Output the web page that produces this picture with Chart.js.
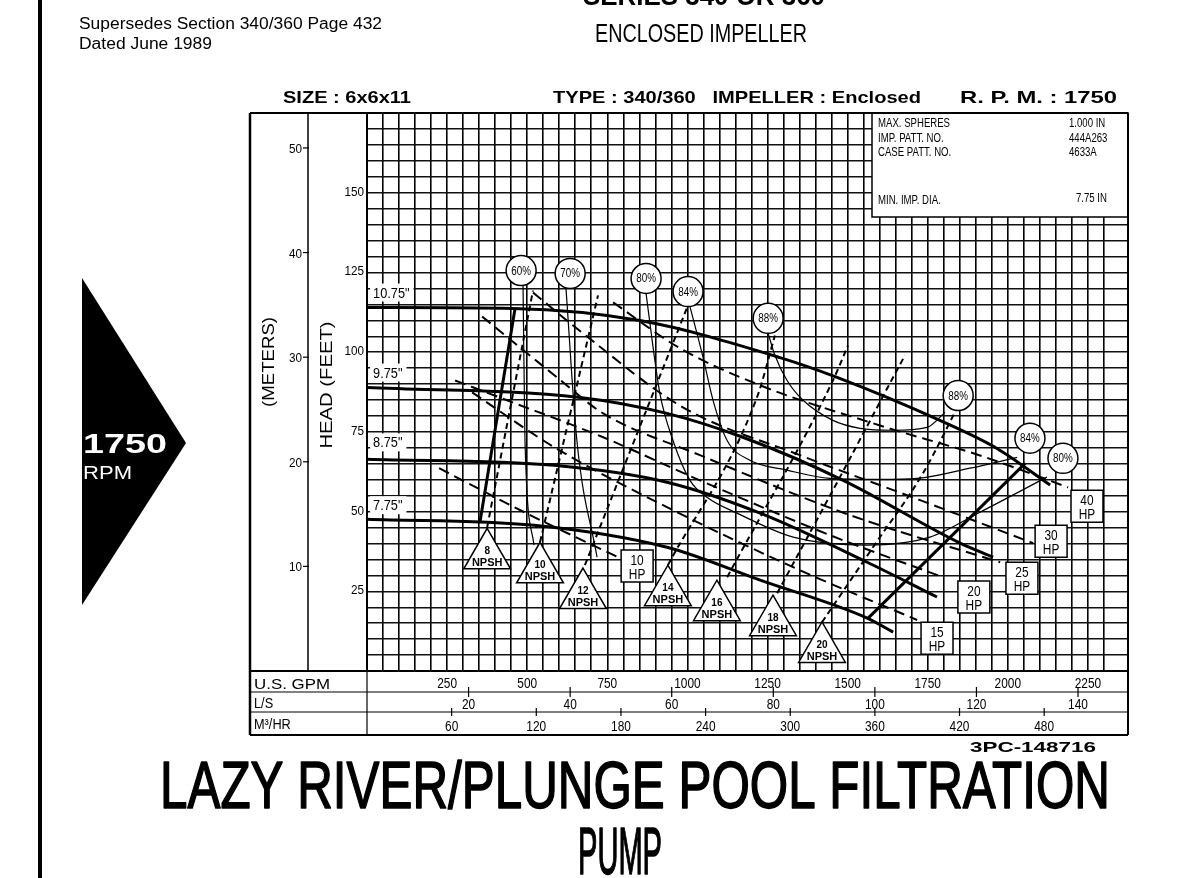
<!DOCTYPE html>
<html lang="en">
    <head>
        <meta charset="utf-8">
        <title> Pump Curve 340/360 6x6x11 </title>
        <script src="https://cdn.jsdelivr.net/npm/chart.js@4.4.1/dist/chart.umd.min.js"></script>
        <style>
            html, body { margin: 0; padding: 0; background: #fff; }
            #sheet { position: relative; width: 1177px; height: 878px; }
        </style>
    </head>

    <body>
        <div id="sheet"><canvas id="pumpChart"></canvas></div>

        <script>

            // head (ft) against flow (U.S. gpm)
            const dia1075 = [[0,114],[456,113.7],[852,109.9],[1289,98.3],[1467,92.1],[1788,78.6],[1966,69.8],[2132,58.3]];
            const dia975  = [[0,88.9],[665,85.8],[936,80.8],[1173,73.3],[1486,59.8],[1851,40.1],[1954,35.7]];
            const dia875  = [[0,66.4],[584,64.5],[936,59.2],[1227,49.5],[1561,34.1],[1779,23.2]];
            const dia775  = [[0,47.6],[521,45.7],[936,38.8],[1227,28.5],[1561,16.6],[1642,12.2]];
            const endOfCurve = [[1564,16.6],[2054,65.1]];
            const minFlow = [[353,47.0],[462,113.7]];

            const diaLabels = ['10.75"', '9.75"', '8.75"', '7.75"'];
            const diaLabelFt = [118.7, 93.6, 71.7, 52.0];

            // efficiency
            const eff60 = [[487,120.9],[493,72.3],[521,39.5]];
            const eff70 = [[621,120.0],[655,72.3],[718,35.7]];
            const eff80 = [[871,118.4],[883,109.0],[914,87.1],[955,72.3],[1008,59.8],[1061,54.5],[1155,49.5],[1330,42.0],[1561,39.5],[1757,42.0],[1913,49.8],[2122,60.8]];
            const eff84 = [[1008,114.3],[1049,98.3],[1080,84.9],[1124,72.3],[1195,66.1],[1311,63.0],[1445,60.4],[1601,60.1],[1717,60.4],[1882,63.6],[2029,67.0]];
            const eff88 = [[1252,105.9],[1273,99.0],[1311,91.1],[1361,84.9],[1454,78.6],[1539,76.1],[1642,75.5],[1748,76.4],[1804,81.1]];
            const effLabels = ['60%', '70%', '80%', '84%', '88%', '88%', '84%', '80%'];
            const effGpm = [481, 634, 871, 1002, 1252, 1845, 2069, 2172];
            const effFt = [125.6, 124.7, 123.1, 119.0, 110.6, 86.4, 73.0, 66.7];

            // horsepower
            const hp10 = [[225,63.6],[509,48.9],[790,35.4]];
            const hp15 = [[328,87.4],[584,70.2],[936,51.4],[1351,31.6],[1717,16.0]];
            const hp20 = [[275,91.1],[437,84.9],[737,73.3],[1039,59.8],[1445,42.6],[1798,29.4]];
            const hp25 = [[359,111.2],[593,92.1],[737,80.8],[1039,67.7],[1507,48.9],[1976,34.1]];
            const hp30 = [[518,118.7],[674,105.9],[986,82.7],[1351,67.7],[1726,53.6],[2079,40.1]];
            const hp40 = [[768,115.6],[977,101.2],[1227,89.6],[1601,77.0],[1913,67.6],[2188,57.6]];
            const hpLabels = ['10', '15', '20', '25', '30', '40'];
            const hpBoxGpm = [843, 1779, 1894, 2044, 2135, 2247];
            const hpBoxFt = [32.9, 10.3, 23.2, 29.1, 40.7, 51.7];

            // NPSH required
            const npsh8  = [[375,45.1],[518,119.3]];
            const npsh10 = [[540,40.4],[721,117.8]];
            const npsh12 = [[680,33.2],[999,114.0]];
            const npsh14 = [[939,33.2],[1217,85.8],[1273,105.2]];
            const npsh16 = [[1124,29.4],[1454,91.1],[1501,102.1]];
            const npsh18 = [[1280,24.4],[1476,60.8],[1642,92.1],[1679,99.0]];
            const npsh20 = [[1420,15.3],[1579,38.8],[1735,62.0],[1857,85.5]];
            const npshLabels = ['8', '10', '12', '14', '16', '18', '20'];
            const npshGpm = [375, 540, 674, 939, 1092, 1267, 1420];
            const npshFt = [36.3, 31.9, 23.8, 24.7, 20.0, 15.3, 6.9];

            // axis tick labels
            const feetTicks = [25, 50, 75, 100, 125, 150];
            const meterTicks = [10, 20, 30, 40, 50];
            const gpmTicks = [250, 500, 750, 1000, 1250, 1500, 1750, 2000, 2250];
            const lpsTicks = [20, 40, 60, 80, 100, 120, 140];
            const m3hTicks = [60, 120, 180, 240, 300, 360, 420, 480];

            const infoNames = ['MAX. SPHERES', 'IMP. PATT. NO.', 'CASE PATT. NO.', 'MIN. IMP. DIA.'];
            const infoValues = ['1.000 IN', '444A263', '4633A', '7.75 IN'];

            const FONT = '"Liberation Sans", Arial, sans-serif';

            function say (ctx, s, x, y, size, opt = {}) {
                ctx.save ();
                ctx.font = (opt.bold ? 'bold ' : '') + size + 'px ' + FONT;
                ctx.fillStyle = opt.color || '#000';
                ctx.textBaseline = opt.base || 'alphabetic';
                ctx.textAlign = 'left';
                const w = ctx.measureText (s).width;
                const sx = opt.w ? opt.w / w : (opt.sx || 1);
                let x0 = x;
                if (opt.align === 'center') x0 = x - w * sx / 2;
                if (opt.align === 'right') x0 = x - w * sx;
                ctx.translate (x0, y);
                ctx.scale (sx, 1);
                ctx.fillText (s, 0, 0);
                if (opt.stroke) {
                    ctx.strokeStyle = opt.color || '#000';
                    ctx.lineWidth = opt.stroke;
                    ctx.lineJoin = 'round';
                    ctx.strokeText (s, 0, 0);
                }
                ctx.restore ();
                return w * sx;
            }

            function line (ctx, x1, y1, x2, y2, w) {
                ctx.beginPath ();
                ctx.lineWidth = w;
                ctx.moveTo (x1, y1);
                ctx.lineTo (x2, y2);
                ctx.stroke ();
            }

            const curve = (data, width, dash) => ({
                data: data.map (p => ({ x: p[0], y: p[1] })),
                showLine: true,
                borderColor: '#000',
                borderWidth: width,
                borderDash: dash || [],
                pointRadius: 0,
                cubicInterpolationMode: 'monotone',
                fill: false,
                order: 2
            });

            const marks = (xs, ys, style, r) => ({
                data: xs.map ((v, i) => ({ x: v, y: ys[i] })),
                showLine: false,
                pointStyle: style,
                pointRadius: r,
                pointBackgroundColor: '#fff',
                pointBorderColor: '#000',
                pointBorderWidth: 1.5,
                order: 1
            });

            const sheetPlugin = {
                id: 'sheet',
                afterDatasetsDraw (chart) {
                    const { ctx, chartArea: a, scales: { x, y } } = chart;
                    ctx.save ();
                    ctx.strokeStyle = '#000';

                    // info box, top right
                    ctx.fillStyle = '#fff';
                    ctx.fillRect (a.right - 256, a.top, 256, 104);
                    ctx.lineWidth = 1.5;
                    ctx.strokeRect (a.right - 256, a.top, 256, 104);
                    const rowY = [127, 142, 156, 204];
                    infoNames.forEach ((s, i) => {
                        say (ctx, s, a.right - 250, rowY[i], 12, { sx: 0.8 });
                        say (ctx, infoValues[i], a.right - 59 + (i === 3 ? 7 : 0), rowY[i] - (i === 3 ? 2 : 0), 12, { sx: 0.8 });
                    });

                    // impeller diameter tags
                    diaLabels.forEach ((s, i) => {
                        const px = x.getPixelForValue (19);
                        const py = y.getPixelForValue (diaLabelFt[i]);
                        ctx.font = '15px ' + FONT;
                        const w = ctx.measureText (s).width * 0.85;
                        ctx.fillStyle = '#fff';
                        ctx.fillRect (px - 3, py - 9, w + 7, 18);
                        say (ctx, s, px, py + 5, 15, { sx: 0.85 });
                    });

                    effLabels.forEach ((s, i) => {
                        const px = x.getPixelForValue (effGpm[i]);
                        const py = y.getPixelForValue (effFt[i]);
                        say (ctx, s, px, py + 4, 12, { sx: 0.82, align: 'center' });
                    });

                    npshLabels.forEach ((s, i) => {
                        const px = x.getPixelForValue (npshGpm[i]);
                        const py = y.getPixelForValue (npshFt[i]);
                        say (ctx, s, px, py - 1, 10, { bold: true, align: 'center' });
                        say (ctx, 'NPSH', px, py + 11, 11, { bold: true, align: 'center' });
                    });

                    hpLabels.forEach ((s, i) => {
                        const px = x.getPixelForValue (hpBoxGpm[i]);
                        const py = y.getPixelForValue (hpBoxFt[i]);
                        say (ctx, s, px, py - 1, 14, { sx: 0.85, align: 'center' });
                        say (ctx, 'HP', px, py + 13, 14, { sx: 0.85, align: 'center' });
                    });
                    ctx.restore ();
                },

                afterDraw (chart) {
                    const { ctx, chartArea: a, scales: { x, y } } = chart;
                    ctx.save ();
                    ctx.strokeStyle = '#000';
                    ctx.fillStyle = '#000';

                    // page edge and rpm arrow
                    line (ctx, 40, 0, 40, 878, 4);
                    ctx.beginPath ();
                    ctx.moveTo (82, 278);
                    ctx.lineTo (186, 443);
                    ctx.lineTo (82, 605);
                    ctx.closePath ();
                    ctx.fill ();
                    say (ctx, '1750', 83, 453, 28, { bold: true, color: '#fff', w: 84 });
                    say (ctx, 'RPM', 83, 479, 19, { color: '#fff', w: 49 });

                    // sheet header
                    say (ctx, 'SERIES 340 OR 360', 583, 5, 27, { bold: true, w: 242 });
                    say (ctx, 'Supersedes Section 340/360 Page 432', 79, 29, 16, { w: 303 });
                    say (ctx, 'Dated June 1989', 79, 49, 16, { w: 133 });
                    say (ctx, 'ENCLOSED IMPELLER', 595, 42, 25, { w: 212 });
                    say (ctx, 'SIZE : 6x6x11', 283, 103, 17, { bold: true, w: 128 });
                    say (ctx, 'TYPE : 340/360   IMPELLER : Enclosed', 553, 103, 17, { bold: true, w: 368 });
                    say (ctx, 'R. P. M. : 1750', 960, 103, 17, { bold: true, w: 157 });

                    // chart frame
                    const bot = a.bottom;
                    line (ctx, 250, a.top, 250, 735, 2.5);
                    line (ctx, 250, a.top, a.right, a.top, 2);
                    line (ctx, 308, a.top, 308, bot, 1.5);
                    line (ctx, a.right, a.top, a.right, 735, 2);
                    line (ctx, 250, bot, a.right, bot, 2);
                    line (ctx, 250, 692, a.right, 692, 1.2);
                    line (ctx, 250, 712, a.right, 712, 1.2);
                    line (ctx, 250, 735, a.right, 735, 2);
                    line (ctx, a.left, bot, a.left, 735, 1.2);

                    // head axes
                    feetTicks.forEach (v => {
                        say (ctx, String (v), 364, y.getPixelForValue (v) + 3, 13, { sx: 0.9, align: 'right' });
                    });
                    meterTicks.forEach (v => {
                        const py = y.getPixelForValue (v * 3.2808);
                        say (ctx, String (v), 302, py + 5, 13, { sx: 0.9, align: 'right' });
                        line (ctx, 303, py, 309, py, 1.2);
                    });
                    ctx.save ();
                    ctx.translate (268, 362);
                    ctx.rotate (-Math.PI / 2);
                    say (ctx, '(METERS)', 0, 6, 17, { w: 90, align: 'center' });
                    ctx.restore ();
                    ctx.save ();
                    ctx.translate (326, 385);
                    ctx.rotate (-Math.PI / 2);
                    say (ctx, 'HEAD (FEET)', 0, 6, 17, { w: 127, align: 'center' });
                    ctx.restore ();

                    // flow table
                    say (ctx, 'U.S. GPM', 254, 689, 15, { w: 76 });
                    say (ctx, 'L/S', 254, 708, 15, { sx: 0.85 });
                    say (ctx, 'M³/HR', 254, 729, 15, { sx: 0.85 });
                    gpmTicks.forEach (v => {
                        say (ctx, String (v), x.getPixelForValue (v), 688, 14, { sx: 0.85, align: 'center' });
                    });
                    lpsTicks.forEach (v => {
                        const px = x.getPixelForValue (v * 15.850);
                        line (ctx, px, 687, px, 697, 1.2);
                        say (ctx, String (v), px, 709, 14, { sx: 0.85, align: 'center' });
                    });
                    m3hTicks.forEach (v => {
                        const px = x.getPixelForValue (v * 4.4029);
                        line (ctx, px, 708, px, 716, 1.2);
                        say (ctx, String (v), px, 731, 14, { sx: 0.85, align: 'center' });
                    });

                    // footer
                    say (ctx, '3PC-148716', 970, 752, 15, { bold: true, w: 126 });
                    say (ctx, 'LAZY RIVER/PLUNGE POOL FILTRATION', 160, 808, 67, { w: 950, stroke: 1.6 });
                    say (ctx, 'PUMP', 578, 874, 67, { w: 84, stroke: 1.6 });
                    ctx.restore ();
                }
            };

            const chartContext = document.getElementById ('pumpChart').getContext ('2d');
            const pumpChart = new Chart (chartContext, {
                type: 'scatter',
                data: {
                    datasets: [
                        marks (effGpm, effFt, 'circle', 15),
                        marks (npshGpm, npshFt, 'triangle', 27),
                        marks (hpBoxGpm, hpBoxFt, 'rect', 22.6),
                        curve (dia1075, 3), curve (dia975, 3), curve (dia875, 3), curve (dia775, 3),
                        curve (endOfCurve, 3), curve (minFlow, 3),
                        curve (hp10, 2, [11, 6]), curve (hp15, 2, [11, 6]), curve (hp20, 2, [11, 6]),
                        curve (hp25, 2, [11, 6]), curve (hp30, 2, [11, 6]), curve (hp40, 2, [11, 6]),
                        curve (npsh8, 2, [6, 4]), curve (npsh10, 2, [6, 4]), curve (npsh12, 2, [6, 4]),
                        curve (npsh14, 2, [6, 4]), curve (npsh16, 2, [6, 4]), curve (npsh18, 2, [6, 4]),
                        curve (npsh20, 2, [6, 4]),
                        curve (eff60, 1.2), curve (eff70, 1.2), curve (eff80, 1.2), curve (eff84, 1.2), curve (eff88, 1.2)
                    ]
                },
                options: {
                    responsive: true,
                    maintainAspectRatio: false,
                    animation: false,
                    events: [],
                    layout: { padding: { left: 367, right: 49, top: 113, bottom: 207 } },
                    plugins: { legend: { display: false }, tooltip: { enabled: false } },
                    scales: {
                        x: {
                            type: 'linear', min: 0, max: 2375,
                            ticks: { display: false, stepSize: 50, maxTicksLimit: 1000 },
                            grid: { color: '#000', lineWidth: 1.6, drawTicks: false },
                            border: { color: '#000', width: 2 }
                        },
                        y: {
                            type: 'linear', min: 0, max: 175,
                            ticks: { display: false, stepSize: 5, maxTicksLimit: 1000 },
                            grid: { color: '#111', lineWidth: 1.4, drawTicks: false },
                            border: { color: '#000', width: 2 }
                        }
                    }
                },
                plugins: [sheetPlugin]
            });

        </script>
    </body>
</html>
